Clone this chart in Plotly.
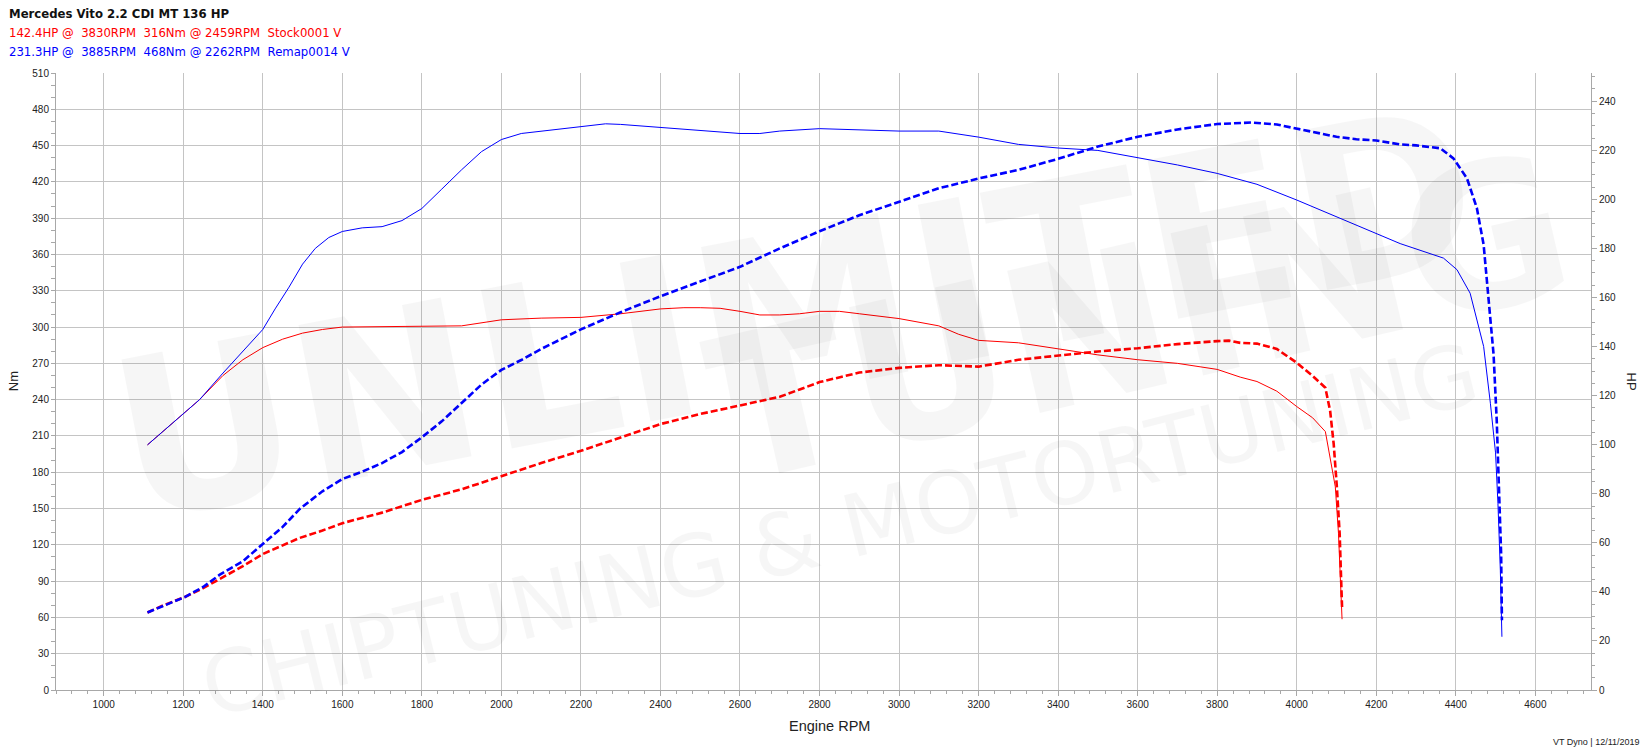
import plotly.graph_objects as go

# ---------------- data ----------------
stock_tq_rpm = [1110, 1150, 1204, 1241, 1300, 1350, 1400, 1450, 1500, 1550, 1600, 1700, 1800, 1900,
                2000, 2100, 2200, 2300, 2400, 2459, 2500, 2550, 2600, 2650, 2700, 2750, 2800, 2850,
                2900, 3000, 3100, 3150, 3200, 3300, 3400, 3500, 3600, 3700, 3800, 3858, 3900, 3950,
                4000, 4040, 4072, 4084, 4097, 4105, 4112, 4114]
stock_tq = [202.6, 214, 228.9, 240, 260, 273, 283, 290, 295, 298, 300, 300.5, 301, 301,
            306, 307.4, 308, 311, 315, 316, 316, 315.5, 313, 310, 310, 311, 313, 313,
            311, 307, 301, 294, 289, 287, 282, 277, 273, 270, 265, 258.6, 255, 247,
            234.3, 225, 213.6, 193, 168, 129.6, 74, 58.5]

stock_hp_rpm = [1110, 1150, 1204, 1250, 1300, 1350, 1401, 1450, 1493, 1550, 1600, 1700, 1800, 1900,
                2000, 2100, 2200, 2300, 2400, 2500, 2600, 2700, 2750, 2800, 2900, 3000, 3100, 3200,
                3300, 3400, 3500, 3600, 3700, 3800, 3830, 3858, 3900, 3950, 4000, 4040, 4072, 4084,
                4093, 4101, 4108, 4112, 4114]
stock_hp = [31.6, 34.5, 37.9, 41.5, 46, 50.5, 55.5, 59, 62, 65, 68, 72.3, 77.5, 81.8,
            87.3, 92.5, 97.5, 103, 108.4, 112.5, 116, 119.5, 122.5, 125.5, 129.4, 131.3, 132.4, 131.8,
            134.6, 136.3, 138, 139.3, 141, 142.2, 142.4, 141.5, 141.2, 139, 133.4, 128, 123.2, 113.8,
            100.2, 82.6, 63.7, 43.4, 33.8]

remap_tq_rpm = [1110, 1150, 1204, 1241, 1300, 1350, 1400, 1431, 1466, 1500, 1532, 1566, 1600, 1650,
                1700, 1750, 1800, 1850, 1900, 1950, 2000, 2050, 2100, 2200, 2262, 2300, 2400, 2500,
                2600, 2650, 2700, 2800, 2900, 3000, 3100, 3200, 3300, 3400, 3500, 3600, 3700, 3800,
                3900, 4000, 4100, 4200, 4260, 4369, 4403, 4436, 4470, 4487, 4500, 4506, 4512, 4516]
remap_tq = [202.6, 214, 229, 240, 262, 280, 298, 315, 333, 352, 365, 374, 379, 382,
            383, 388, 398, 414, 430, 445, 455, 460, 462, 466, 468, 467.5, 465, 462,
            460, 460, 462, 464, 463, 462, 462, 457, 451, 448, 446, 440, 434, 427,
            418, 405, 391, 377, 369, 357, 347.4, 328, 284, 237, 196, 154, 99, 44]

remap_hp_rpm = [1110, 1204, 1250, 1292, 1350, 1401, 1450, 1493, 1550, 1600, 1650, 1700, 1750, 1800,
                1850, 1900, 1950, 2000, 2050, 2100, 2200, 2300, 2400, 2500, 2600, 2700, 2800, 2900,
                3000, 3100, 3200, 3300, 3400, 3500, 3600, 3700, 3800, 3885, 3950, 4000, 4050, 4100,
                4150, 4200, 4260, 4300, 4361, 4394, 4428, 4453, 4470, 4482, 4495, 4503, 4509, 4514, 4516]
remap_hp = [31.6, 37.9, 42, 47, 52.5, 59.6, 66.5, 73.8, 81, 86, 89, 92.5, 97, 103,
            109.5, 117, 124.5, 130.5, 134.5, 139, 147, 154, 160.5, 166.5, 172.5, 180, 187, 193.5,
            199, 204.5, 208.5, 212, 216.5, 221.5, 225.5, 228.5, 230.7, 231.3, 230.5, 228.8, 227, 225.5,
            224.5, 224, 222.4, 222, 220.8, 216.7, 208.6, 196.4, 181.5, 161.2, 136.8, 109.7, 82.6, 55.5, 28.4]

title_text = "Mercedes Vito 2.2 CDI MT 136 HP"
stock_label = "142.4HP @  3830RPM  316Nm @ 2459RPM  Stock0001 V"
remap_label = "231.3HP @  3885RPM  468Nm @ 2262RPM  Remap0014 V"
x_title = "Engine RPM"
y_title = "Nm"
y2_title = "HP"
footer = "VT Dyno | 12/11/2019"
watermark_lines = ["UNLIMITED", "TUNING", "CHIPTUNING & MOTORTUNING"]

RED = "#ff0000"
BLUE = "#0000ff"
GRID = "#c4c4c4"
AXIS = "#a8a8a8"
TXT = "#222222"

fig = go.Figure()
fig.add_trace(go.Scatter(x=stock_tq_rpm, y=stock_tq, mode="lines", yaxis="y",
                         line=dict(color=RED, width=1), showlegend=False))
fig.add_trace(go.Scatter(x=remap_tq_rpm, y=remap_tq, mode="lines", yaxis="y",
                         line=dict(color=BLUE, width=1), showlegend=False))
fig.add_trace(go.Scatter(x=stock_hp_rpm, y=stock_hp, mode="lines", yaxis="y2",
                         line=dict(color=RED, width=2.6, dash="7px,3px"), showlegend=False))
fig.add_trace(go.Scatter(x=remap_hp_rpm, y=remap_hp, mode="lines", yaxis="y2",
                         line=dict(color=BLUE, width=2.6, dash="7px,3px"), showlegend=False))

tickfont = dict(family="Liberation Sans, Arial, sans-serif", size=10, color=TXT)

fig.update_layout(
    width=1648, height=754,
    margin=dict(l=56, r=57, t=73, b=64),
    paper_bgcolor="white", plot_bgcolor="white",
    xaxis=dict(range=[880, 4740], tick0=1000, dtick=200, showgrid=True, gridcolor=GRID, gridwidth=1,
               zeroline=False, showline=True, linecolor=AXIS, linewidth=1,
               ticks="outside", ticklen=5, tickcolor=AXIS, tickfont=tickfont,
               minor=dict(dtick=40, ticks="outside", ticklen=3, tickcolor=AXIS, showgrid=False)),
    yaxis=dict(range=[0, 510], tick0=0, dtick=30, showgrid=True, gridcolor=GRID, gridwidth=1,
               zeroline=False, showline=True, linecolor=AXIS, linewidth=1,
               ticks="outside", ticklen=4, tickcolor=AXIS, tickfont=tickfont,
               minor=dict(dtick=10, ticks="outside", ticklen=4, tickcolor=AXIS, showgrid=False)),
    yaxis2=dict(range=[0, 251.5], tick0=0, dtick=20, overlaying="y", side="right",
                showgrid=False, zeroline=False, showline=True, linecolor=AXIS, linewidth=1,
                ticks="outside", ticklen=5, tickcolor=AXIS, tickfont=tickfont,
                minor=dict(dtick=5, ticks="outside", ticklen=3, tickcolor=AXIS, showgrid=False)),
)

# faint watermark (drawn first so it sits under the other annotations)
wm = "rgba(0,0,0,0.035)"
wm_font = "DejaVu Sans, sans-serif"
wm_specs = [
    (watermark_lines[0], 795, 315, -11, 222, True),
    (watermark_lines[1], 1140, 318, -13, 200, True),
    (watermark_lines[2], 840, 530, -14, 86, False),
]
for txt, px, py, ang, size, bold in wm_specs:
    fig.add_annotation(text=("<b>%s</b>" % txt) if bold else txt, xref="paper", yref="paper",
                       x=(px - 56) / 1535, y=(690 - py) / 617, xanchor="center", yanchor="middle",
                       textangle=ang, showarrow=False, font=dict(family=wm_font, size=size, color=wm))

hdr_font = "DejaVu Sans, Verdana, sans-serif"
ann = [
    dict(text="<b>" + title_text + "</b>", x=-0.0317, y=1.0956, font=dict(family=hdr_font, size=11.7, color="#111111")),
    dict(text=stock_label.replace(" ", "\u00a0"), x=-0.0317, y=1.0653, font=dict(family=hdr_font, size=11.7, color=RED)),
    dict(text=remap_label.replace(" ", "\u00a0"), x=-0.0317, y=1.0345, font=dict(family=hdr_font, size=11.7, color=BLUE)),
]
for a in ann:
    a.update(xref="paper", yref="paper", xanchor="left", yanchor="middle", showarrow=False)
    fig.add_annotation(**a)

lab_font = dict(family="Liberation Sans, Arial, sans-serif", size=13, color=TXT)
fig.add_annotation(text=y_title, xref="paper", yref="paper", x=-0.0276, y=0.5, textangle=-90,
                   showarrow=False, xanchor="center", yanchor="middle", font=lab_font)
fig.add_annotation(text=y2_title, xref="paper", yref="paper", x=1.0267, y=0.5, textangle=90,
                   showarrow=False, xanchor="center", yanchor="middle", font=lab_font)
fig.add_annotation(text=x_title, xref="paper", yref="paper", x=0.504, y=-0.0583,
                   showarrow=False, xanchor="center", yanchor="middle",
                   font=dict(family="Liberation Sans, Arial, sans-serif", size=14.5, color=TXT))
fig.add_annotation(text=footer, xref="paper", yref="paper", x=1.0332, y=-0.0843,
                   showarrow=False, xanchor="right", yanchor="middle",
                   font=dict(family="Liberation Sans, Arial, sans-serif", size=9, color=TXT))

fig.write_html("out.html", config={"displayModeBar": False},
               post_script="document.body.style.margin='0';document.body.style.overflow='hidden';")
